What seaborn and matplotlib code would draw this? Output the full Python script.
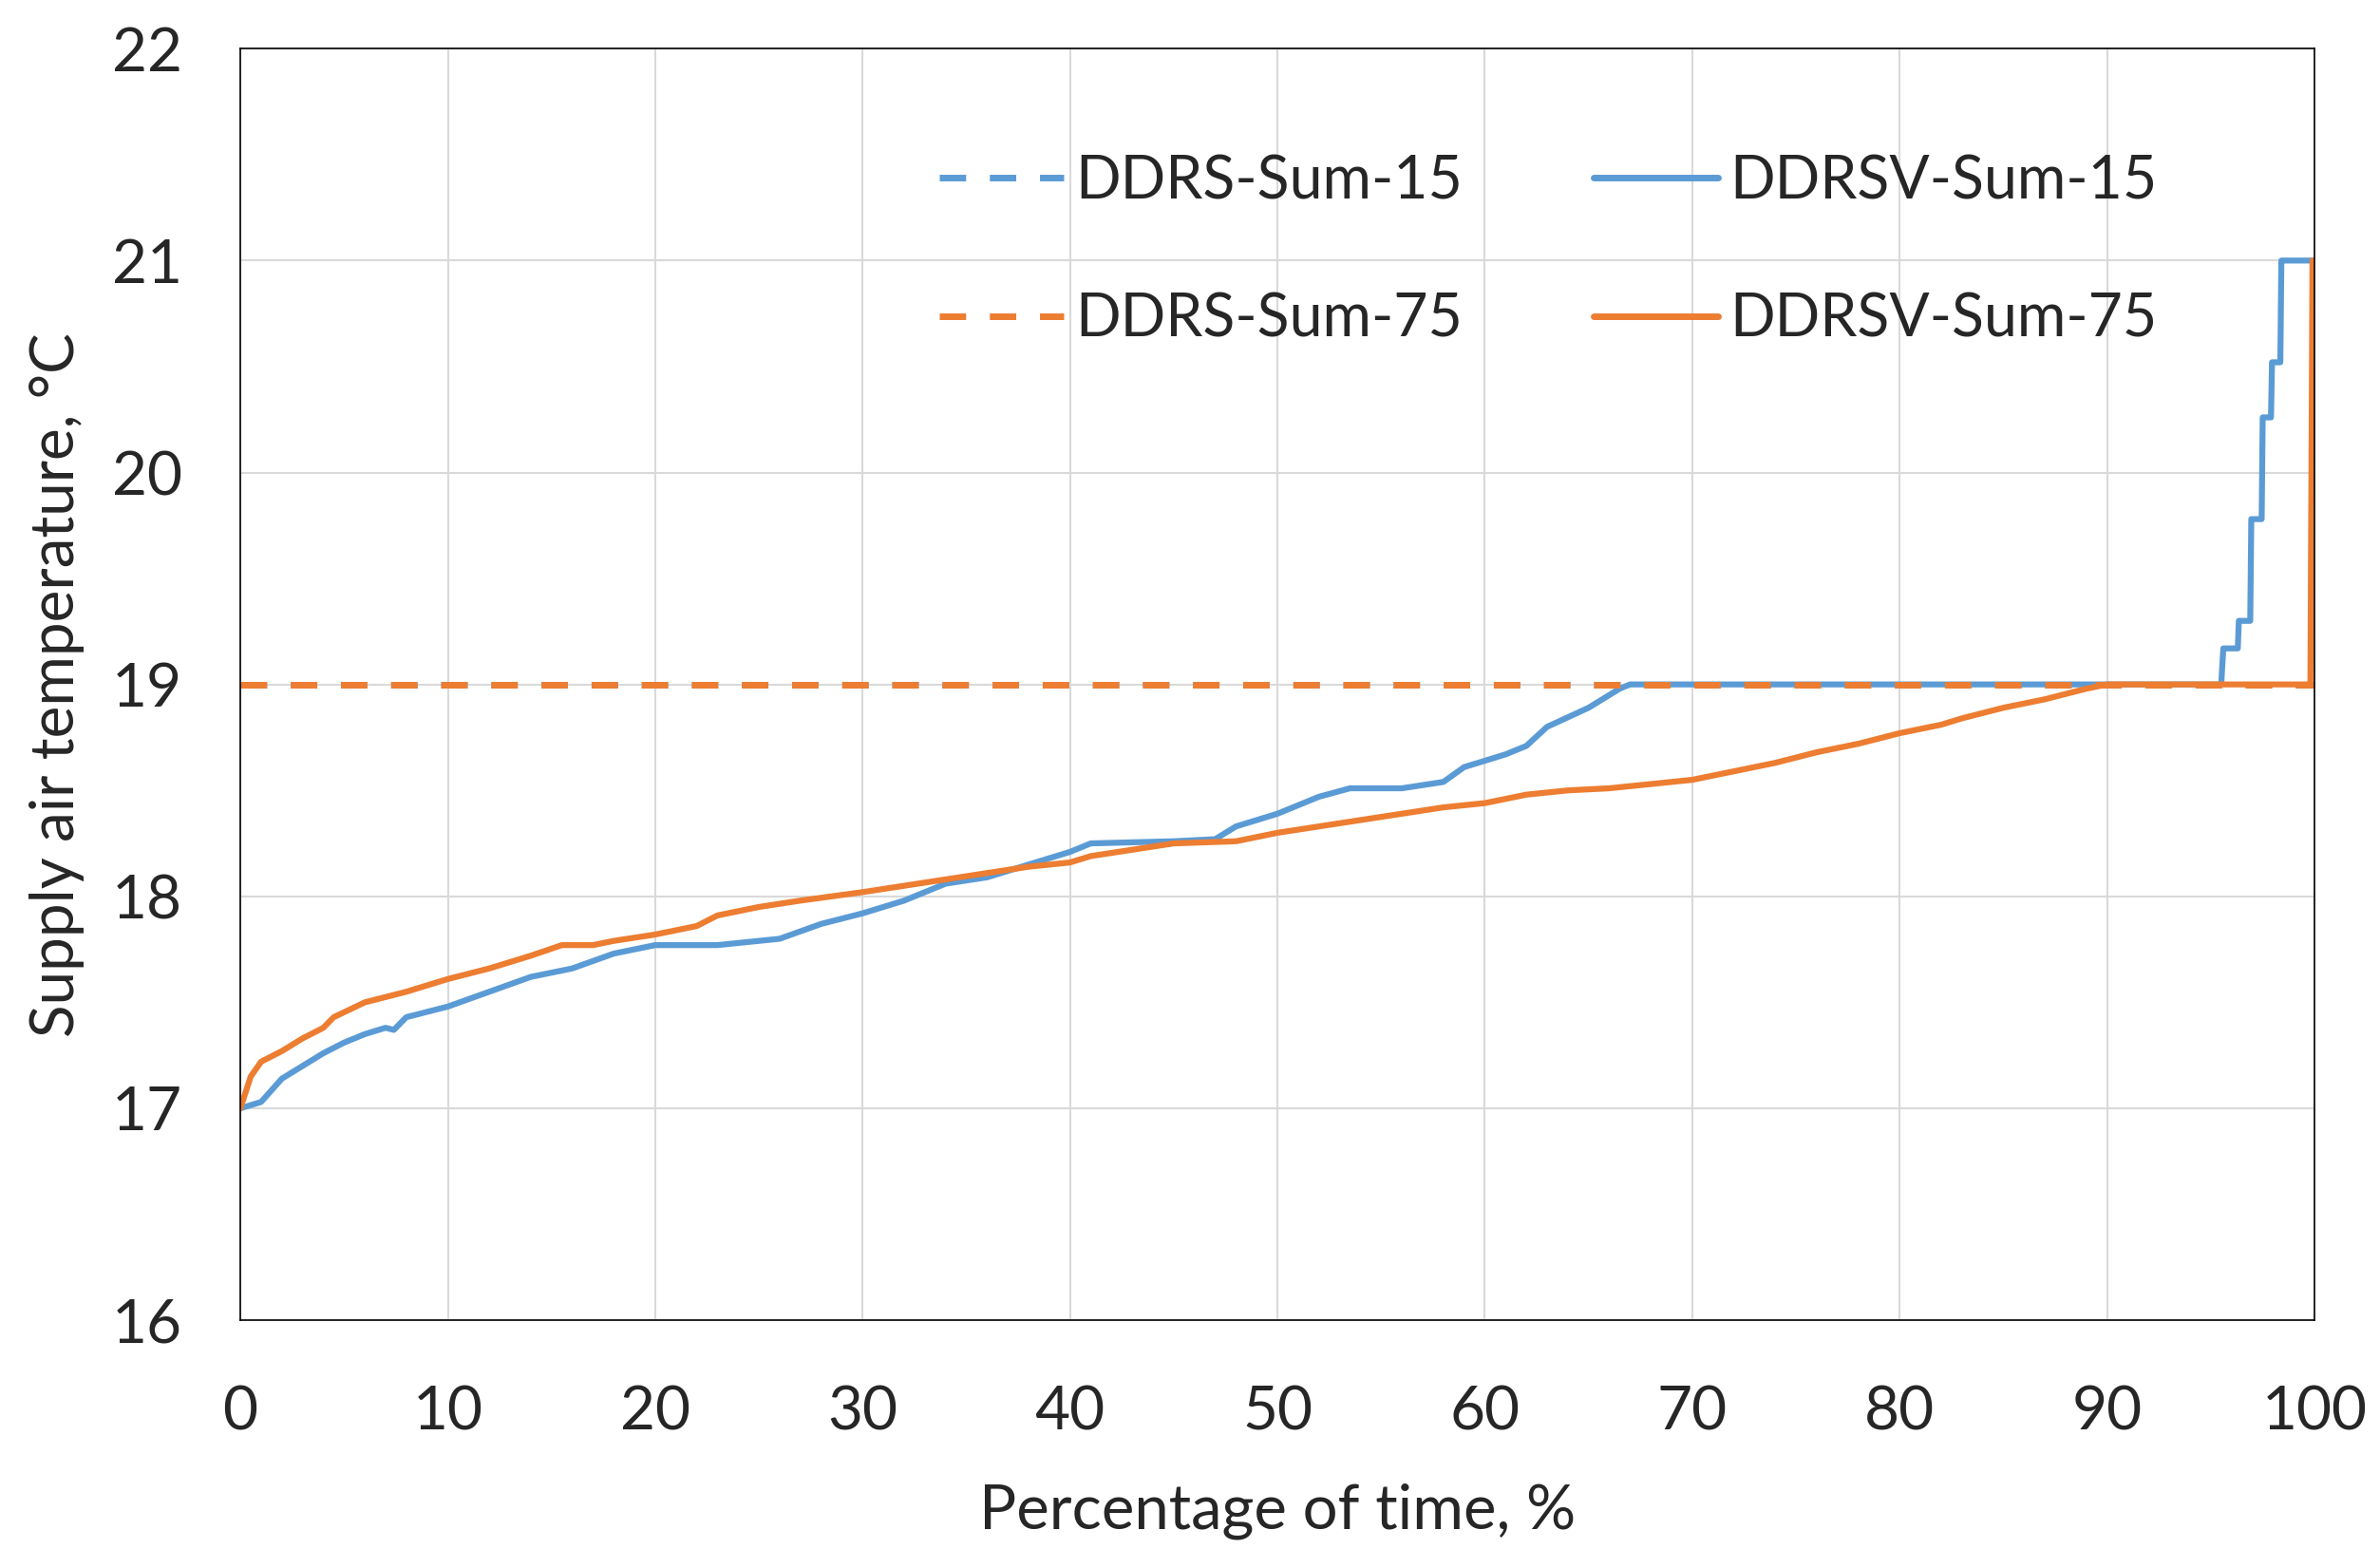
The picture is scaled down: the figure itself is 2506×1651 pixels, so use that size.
import numpy as np
import pandas as pd
import matplotlib
matplotlib.use("Agg")
import matplotlib.pyplot as plt
from matplotlib.lines import Line2D
import seaborn as sns

# DDRSV-Sum-15 (blue, solid)
x_v15 = [0, 1, 2, 3, 4, 5, 6, 7, 7.4, 8, 10, 12, 14, 16, 18, 20, 23, 25, 26, 28,
         30, 32, 34, 36, 38, 40, 41, 45, 47, 48, 50, 52, 53.5, 56, 58, 59, 61, 62,
         63, 65, 66.5, 67, 95.5, 95.6, 96.3, 96.35, 96.9, 96.95, 97.45, 97.5,
         97.9, 97.95, 98.35, 98.4, 100]
y_v15 = [17.0, 17.03, 17.14, 17.2, 17.26, 17.31, 17.35, 17.38, 17.37, 17.43, 17.48,
         17.55, 17.62, 17.66, 17.73, 17.77, 17.77, 17.79, 17.8, 17.87, 17.92, 17.98,
         18.06, 18.09, 18.15, 18.21, 18.25, 18.26, 18.27, 18.33, 18.39, 18.47, 18.51,
         18.51, 18.54, 18.61, 18.67, 18.71, 18.8, 18.89, 18.98, 19.0, 19.0, 19.17,
         19.17, 19.3, 19.3, 19.78, 19.78, 20.26, 20.26, 20.52, 20.52, 21.0, 21.0]

# DDRSV-Sum-75 (orange, solid)
x_v75 = [0, 0.5, 1, 2, 3, 4, 4.5, 6, 8, 10, 12, 14, 15.5, 17, 18, 20, 22, 23, 25,
         27, 30, 32, 34, 36, 38, 40, 41, 43, 45, 48, 50, 52, 54, 56, 58, 60, 62,
         64, 66, 68, 70, 72, 74, 76, 78, 80, 82, 83, 85, 87, 89, 90, 99.8, 99.9]
y_v75 = [17.0, 17.15, 17.22, 17.27, 17.33, 17.38, 17.43, 17.5, 17.55, 17.61, 17.66,
         17.72, 17.77, 17.77, 17.79, 17.82, 17.86, 17.91, 17.95, 17.98, 18.02, 18.05,
         18.08, 18.11, 18.14, 18.16, 18.19, 18.22, 18.25, 18.26, 18.3, 18.33, 18.36,
         18.39, 18.42, 18.44, 18.48, 18.5, 18.51, 18.53, 18.55, 18.59, 18.63, 18.68,
         18.72, 18.77, 18.81, 18.84, 18.89, 18.93, 18.98, 19.0, 19.0, 21.0]

# DDRS-Sum-15 / DDRS-Sum-75 (dashed, constant)
x_s = [0, 100]
y_s15 = [19.0, 19.0]
y_s75 = [19.0, 19.0]

blue = "#5B9BD5"
orange = "#ED7D31"

sns.set_style("whitegrid")
plt.rcParams['font.family'] = ['Lato', 'DejaVu Sans']

fig, ax = plt.subplots(figsize=(25.06, 16.51), dpi=100)
fig.subplots_adjust(left=0.101, right=0.9725, top=0.969, bottom=0.158)

dash = (4.0, 3.6)
sns.lineplot(x=x_s, y=y_s15, ax=ax, color=blue, lw=5.0, estimator=None, sort=False)
ax.lines[-1].set_dashes(dash)
sns.lineplot(x=x_v15, y=y_v15, ax=ax, color=blue, lw=4.5, estimator=None, sort=False)
sns.lineplot(x=x_v75, y=y_v75, ax=ax, color=orange, lw=4.5, estimator=None, sort=False)
sns.lineplot(x=x_s, y=y_s75, ax=ax, color=orange, lw=5.0, estimator=None, sort=False)
ax.lines[-1].set_dashes(dash)

ax.set_xlim(0, 100)
ax.set_ylim(16, 22)
ax.set_xticks(np.arange(0, 101, 10))
ax.set_yticks(np.arange(16, 23, 1))
ax.grid(True, color="#D9D9D9", lw=1.5)
for s in ax.spines.values():
    s.set_color("black")
    s.set_linewidth(1.2)
ax.tick_params(axis='x', length=0, pad=49, labelsize=46)
ax.tick_params(axis='y', length=0, pad=44, labelsize=46)

ax.set_xlabel("Percentage of time, %", fontsize=47)
ax.set_ylabel("Supply air temperature, °C", fontsize=46)
ax.xaxis.set_label_coords(0.5, -0.128)
ax.yaxis.set_label_coords(-0.075, 0.5)

handles = [
    Line2D([], [], color=blue, lw=5.0, dashes=dash),
    Line2D([], [], color=orange, lw=5.0, dashes=dash),
    Line2D([], [], color=blue, lw=5.0),
    Line2D([], [], color=orange, lw=5.0),
]
labels = ["DDRS-Sum-15", "DDRS-Sum-75", "DDRSV-Sum-15", "DDRSV-Sum-75"]
ax.legend(handles, labels, ncol=2, frameon=False, fontsize=45, loc='center',
          bbox_to_anchor=(0.6305, 0.841), handlelength=2.1, handletextpad=0.2,
          columnspacing=2.2, labelspacing=1.4, borderpad=0)

plt.savefig("out.png", dpi=100)
